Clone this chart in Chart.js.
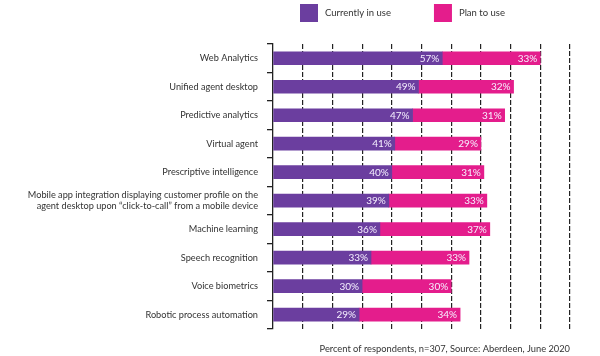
<!DOCTYPE html>
<html>
<head>
<meta charset="utf-8">
<script src="https://cdn.jsdelivr.net/npm/chart.js@4.4.1/dist/chart.umd.min.js"></script>
<style>
html,body{margin:0;padding:0;background:#fff;}
#wrap{width:600px;height:356px;position:relative;}
</style>
</head>
<body>
<div id="wrap"><canvas id="c" width="600" height="356"></canvas></div>
<script>
const categories = [
  "Web Analytics",
  "Unified agent desktop",
  "Predictive analytics",
  "Virtual agent",
  "Prescriptive intelligence",
  ["Mobile app integration displaying customer profile on the", "agent desktop upon \u201cclick-to-call\u201d from a mobile device"],
  "Machine learning",
  "Speech recognition",
  "Voice biometrics",
  "Robotic process automation"
];
const currentlyInUse = [57, 49, 47, 41, 40, 39, 36, 33, 30, 29];
const planToUse = [33, 32, 31, 29, 31, 33, 37, 33, 30, 34];
const seriesNames = ["Currently in use", "Plan to use"];
const xTicks = [0, 10, 20, 30, 40, 50, 60, 70, 80, 90, 100];
const footer = "Percent of respondents, n=307, Source: Aberdeen, June 2020";

const PURPLE = '#6b3e9f';
const PINK = '#e41d8c';
const FONT = 'Lato, "Open Sans", sans-serif';

const valueLabels = {
  id: 'valueLabels',
  afterDatasetsDraw(chart) {
    const ctx = chart.ctx;
    ctx.save();
    ctx.font = '10px ' + FONT;
    ctx.fillStyle = '#f6f0ff';
    ctx.textAlign = 'right';
    ctx.textBaseline = 'middle';
    chart.data.datasets.forEach((ds, di) => {
      const meta = chart.getDatasetMeta(di);
      meta.data.forEach((bar, i) => {
        ctx.fillText(ds.data[i] + '%', bar.x - 3, bar.y + 0.5);
      });
    });
    ctx.restore();
  }
};

const topLegend = {
  id: 'topLegend',
  afterDraw(chart) {
    const ctx = chart.ctx;
    ctx.save();
    ctx.font = '9.5px ' + FONT;
    ctx.textBaseline = 'middle';
    ctx.textAlign = 'left';
    let x = 300;
    const y = 4, box = 18;
    chart.data.datasets.forEach((ds) => {
      ctx.fillStyle = ds.backgroundColor;
      ctx.fillRect(x, y, box, box);
      ctx.fillStyle = '#333';
      ctx.fillText(ds.label, x + box + 7, y + box / 2);
      x += box + 7 + ctx.measureText(ds.label).width + 43;
    });
    ctx.restore();
  }
};

new Chart(document.getElementById('c'), {
  type: 'bar',
  data: {
    labels: categories,
    datasets: [
      { label: seriesNames[0], data: currentlyInUse, backgroundColor: PURPLE, barThickness: 13 },
      { label: seriesNames[1], data: planToUse, backgroundColor: PINK, barThickness: 13 }
    ]
  },
  options: {
    indexAxis: 'y',
    responsive: false,
    animation: false,
    layout: { padding: { top: 44, right: 30, left: 0, bottom: 0 } },
    plugins: {
      legend: { display: false },
      tooltip: { enabled: false },
      title: {
        display: true,
        text: footer,
        position: 'bottom',
        align: 'end',
        color: '#333',
        font: { family: FONT, size: 9.3, weight: 'normal' },
        padding: { top: 15, bottom: 1 }
      }
    },
    scales: {
      x: {
        stacked: true,
        min: 0,
        max: 100,
        afterBuildTicks: (s) => { s.ticks = xTicks.map(v => ({ value: v })); },
        ticks: { display: false },
        border: { display: false, dash: [5, 2] },
        grid: {
          drawTicks: false,
          color: (c) => c.tick && c.tick.value === 0 ? 'rgba(0,0,0,0)' : '#222',
          lineWidth: 1.2
        }
      },
      y: {
        stacked: true,
        afterFit: (s) => { s.width = 273; },
        ticks: {
          color: '#333',
          padding: 9,
          font: { family: FONT, size: 9.2 },
          autoSkip: false
        },
        border: { display: true, color: '#222', width: 1.3 },
        grid: {
          offset: true,
          drawOnChartArea: false,
          drawTicks: true,
          tickLength: 6,
          color: '#222',
          lineWidth: 1.3
        }
      }
    }
  },
  plugins: [valueLabels, topLegend]
});
</script>
</body>
</html>
